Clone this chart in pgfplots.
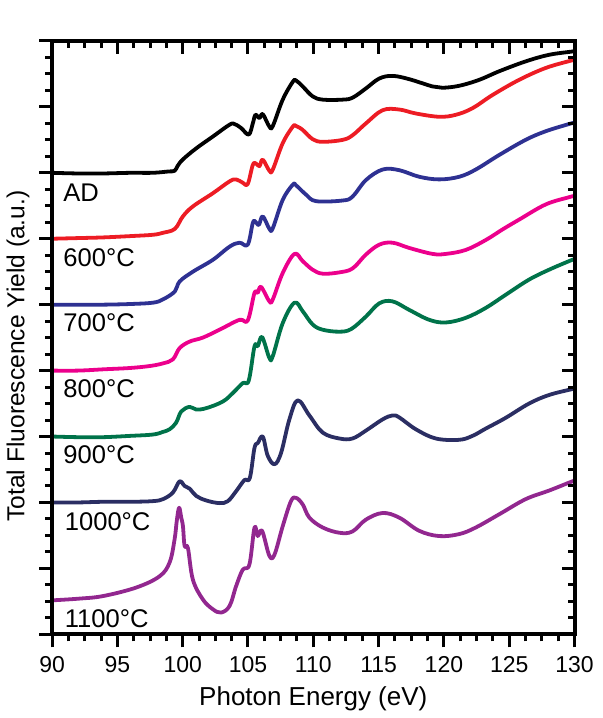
\documentclass[border=0pt]{standalone}
\usepackage{fontspec}
\setmainfont{Liberation Sans}
\usepackage{pgfplots}
\pgfplotsset{compat=1.18}
\usetikzlibrary{calc}

\definecolor{cAD}{HTML}{000000}
\definecolor{c600}{HTML}{ED1C24}
\definecolor{c700}{HTML}{2E3192}
\definecolor{c800}{HTML}{EC008C}
\definecolor{c900}{HTML}{00734A}
\definecolor{c1000}{HTML}{2B2E63}
\definecolor{c1100}{HTML}{92278F}

\pgfplotsset{
  frame/.style={
    scale only axis, width=261.5pt, height=297pt,
    xmin=90, xmax=130, ymin=0, ymax=9,
    xtick={90,95,...,130}, ytick={0,1,...,9},
    minor tick num=3,
    major tick length=6.5pt, minor tick length=3.5pt,
    tick style={line width=1.5pt, black},
    axis line style={line width=2pt},
    /pgf/number format/assume math mode=true,
    ticklabel style={font=\fontsize{11.5}{13}\selectfont},
  },
  curve/.style={line width=1.9pt, line join=round, smooth, tension=0.6},
}

\begin{document}
\begin{tikzpicture}
\begin{axis}[frame,
  tick align=outside, xtick pos=bottom, ytick pos=left,
  yticklabels={},
  xticklabel style={yshift=-1pt},
  xlabel={Photon Energy (eV)},
  ylabel={Total Fluorescence Yield (a.u.)},
  every axis x label/.style={at={(axis description cs:0.5,0)}, anchor=center, yshift=-32.5pt, font=\fontsize{13}{15}\selectfont},
  every axis y label/.style={at={(axis description cs:0,0.469)}, anchor=center, xshift=-17pt, rotate=90, font=\fontsize{12.3}{15}\selectfont},
  clip=false,
]
% AD
\addplot[curve, cAD] coordinates {
(90,7.0) (92,6.99) (93.9,6.99) (96,7.0) (97.7,7.0) (98.9,7.02) (99.38,7.03) (99.6,7.1)
(100.0,7.2) (101.03,7.37) (102.31,7.55) (103.59,7.73) (103.97,7.74) (104.47,7.68)
(105.06,7.58) (105.37,7.75) (105.57,7.88) (105.88,7.83) (106.13,7.89) (106.64,7.70)
(106.9,7.71) (107.66,8.11) (108.43,8.38) (108.68,8.40) (109.19,8.31) (109.95,8.16)
(110.72,8.11) (112.25,8.11) (113.01,8.14) (114.03,8.28) (115.05,8.43) (116.07,8.47)
(117.35,8.42) (119.13,8.31) (119.89,8.29) (121.17,8.32) (122.7,8.41) (124.23,8.54)
(126.26,8.69) (128.05,8.79) (129.83,8.84) (130,8.85)
};
% 600
\addplot[curve, c600] coordinates {
(90,6.0) (92,6.01) (93.9,6.02) (96,6.04) (97.72,6.06) (98.49,6.09) (99.4,6.15)
(100.02,6.34) (100.78,6.49) (102.31,6.69) (103.59,6.87) (104.09,6.90) (104.6,6.85)
(104.98,6.83) (105.37,7.12) (105.62,7.14) (105.88,7.10) (106.13,7.20) (106.64,7.03)
(106.9,7.05) (107.66,7.45) (108.43,7.70) (108.68,7.71) (109.19,7.65) (109.95,7.51)
(110.72,7.47) (112.25,7.50) (113.01,7.57) (114.03,7.75) (115.31,7.95) (116.58,7.96)
(117.85,7.90) (119.64,7.85) (120.91,7.88) (122.19,7.98) (123.72,8.18) (125.76,8.41)
(127.79,8.59) (129.7,8.70) (130,8.71)
};
% 700
\addplot[curve, c700] coordinates {
(90,5.0) (92,5.0) (93.9,5.0) (96,5.01) (97.72,5.03) (98.49,5.08) (99.4,5.2)
(99.76,5.35) (100.78,5.50) (102.31,5.68) (103.59,5.88) (104.35,5.94) (104.98,5.91)
(105.37,6.24) (105.57,6.26) (105.83,6.21) (106.13,6.34) (106.64,6.15) (106.9,6.16)
(107.66,6.59) (108.43,6.82) (108.68,6.81) (109.44,6.67) (110.21,6.57) (112.25,6.58)
(113.01,6.64) (114.03,6.89) (115.31,7.05) (116.58,7.04) (118.11,6.94) (119.64,6.90)
(121.17,6.94) (122.44,7.05) (124.23,7.27) (126.26,7.50) (127.79,7.63) (129.58,7.74) (130,7.76)
};
% 800
\addplot[curve, c800] coordinates {
(90,4.0) (92,4.0) (94,4.02) (96,4.04) (97.5,4.07) (98.5,4.11) (99.25,4.17)
(99.76,4.34) (100.53,4.44) (101.54,4.50) (102.82,4.62) (104.35,4.77) (104.98,4.76)
(105.5,5.18) (105.75,5.18) (106.0,5.27) (106.64,5.05) (106.9,5.08) (107.66,5.48)
(108.56,5.77) (109.19,5.66) (109.95,5.53) (110.72,5.47) (112.0,5.49) (113.01,5.55)
(114.03,5.76) (115.05,5.91) (116.07,5.94) (117.35,5.86) (119.13,5.77) (120.15,5.77)
(121.67,5.83) (123.2,5.98) (124.48,6.14) (125.76,6.29) (127.79,6.52) (129.58,6.63) (130,6.65)
};
% 900
\addplot[curve, c900] coordinates {
(90,3.0) (92,2.99) (93.9,2.99) (96,3.01) (97.72,3.03) (98.49,3.07) (99.0,3.11)
(99.5,3.21) (99.89,3.38) (100.53,3.45) (101.03,3.41) (101.8,3.43) (103.07,3.53)
(103.84,3.66) (104.6,3.81) (105.06,3.85) (105.5,4.37) (105.75,4.37) (106.08,4.51)
(106.64,4.19) (106.9,4.22) (107.66,4.72) (108.56,5.03) (109.19,4.90) (109.95,4.70)
(110.72,4.62) (112.0,4.59) (112.9,4.63) (114.03,4.82) (115.05,5.02) (116.07,5.05)
(117.35,4.92) (118.88,4.77) (120.15,4.73) (121.67,4.80) (123.2,4.95) (124.73,5.15)
(126.52,5.38) (128.05,5.53) (129.7,5.67) (130,5.69)
};
% 1000
\addplot[curve, c1000] coordinates {
(90,2.0) (92,2.0) (93.9,2.01) (96,2.01) (97.72,2.02) (98.49,2.05) (99.25,2.15)
(99.76,2.32) (100.15,2.25) (100.53,2.21) (101.03,2.10) (101.8,2.03) (102.82,1.99)
(103.46,2.02) (104.09,2.17) (104.73,2.34) (105.14,2.37) (105.5,2.83) (105.75,2.90)
(106.13,3.00) (106.51,2.71) (107.03,2.58) (107.53,2.75) (108.17,3.26) (108.81,3.55)
(109.7,3.32) (110.72,3.06) (112.0,2.97) (113.0,2.97) (114.03,3.09) (115.31,3.26)
(116.07,3.32) (116.58,3.29) (117.85,3.11) (119.38,2.97) (121.17,2.95) (122.19,3.01)
(123.2,3.12) (124.7,3.28) (126.52,3.50) (128.05,3.63) (129.83,3.72) (130,3.73)
};
% 1100
\addplot[curve, c1100] coordinates {
(90,0.515) (92,0.54) (93.9,0.58) (96.45,0.71) (98.23,0.88) (99.0,1.09) (99.38,1.44)
(99.56,1.74) (99.73,1.92) (99.89,1.77) (100.02,1.64) (100.15,1.34) (100.4,1.31)
(100.78,0.83) (101.54,0.53) (102.31,0.38) (102.94,0.33) (103.59,0.43) (104.09,0.73)
(104.6,0.98) (105.11,1.06) (105.5,1.62) (105.75,1.49) (106.08,1.57) (106.64,1.19)
(107.03,1.21) (107.66,1.64) (108.29,2.02) (108.68,2.07) (109.19,1.97) (109.7,1.77)
(110.72,1.62) (112.0,1.54) (113.0,1.56) (114.03,1.74) (115.31,1.84) (116.58,1.77)
(118.11,1.57) (119.64,1.49) (121.17,1.52) (122.44,1.62) (124.23,1.82) (126.26,2.05)
(128.05,2.18) (129.7,2.31) (130,2.33)
};
\begin{scope}[every node/.style={anchor=west, inner sep=0pt, font=\fontsize{12.8}{15}\selectfont}]
\node at (axis cs:90.84,6.70) {AD};
\node at (axis cs:90.84,5.71) {600°C};
\node at (axis cs:90.84,4.73) {700°C};
\node at (axis cs:90.84,3.73) {800°C};
\node at (axis cs:90.84,2.73) {900°C};
\node at (axis cs:90.95,1.71) {1000°C};
\node at (axis cs:90.95,0.24) {1100°C};
\end{scope}
\coordinate (sw) at (rel axis cs:0,0);
\coordinate (ne) at (rel axis cs:1,1);
\end{axis}
\begin{axis}[frame,
  tick align=inside, xtick pos=top, ytick pos=right,
  xticklabels={}, yticklabels={},
]
\end{axis}
\path ($(sw)+(-24.5pt,-41.5pt)$) rectangle ($(ne)+(14pt,20.5pt)$);
\end{tikzpicture}
\end{document}
